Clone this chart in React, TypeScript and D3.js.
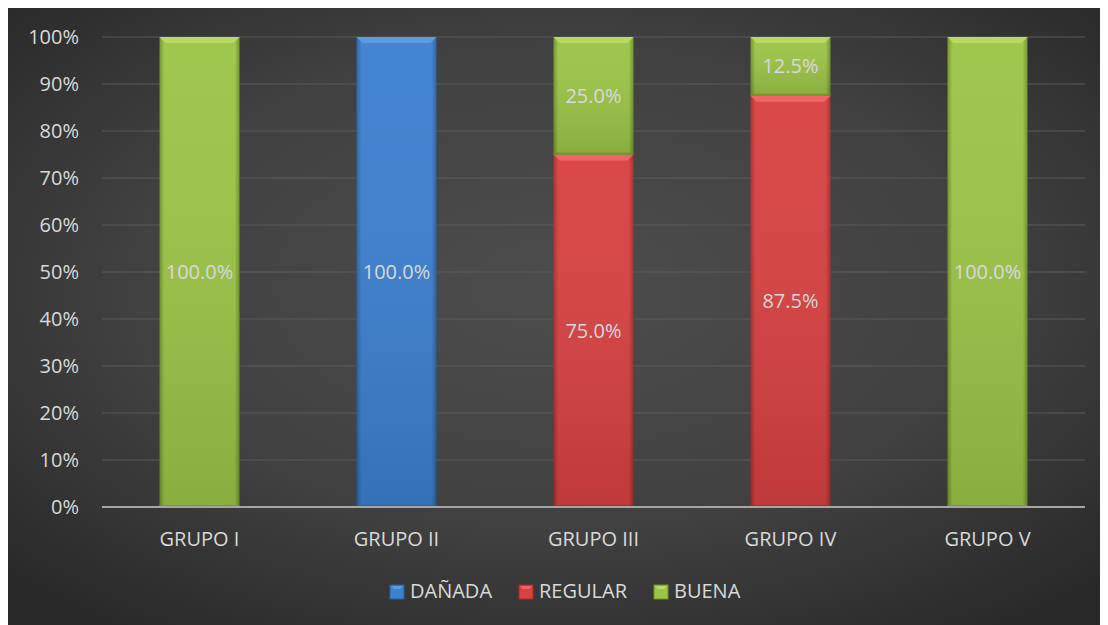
import * as d3 from "d3";

const categories = ["GRUPO I", "GRUPO II", "GRUPO III", "GRUPO IV", "GRUPO V"];
const seriesNames = ["DAÑADA", "REGULAR", "BUENA"];
const danada = [0, 100, 0, 0, 0];
const regular = [0, 0, 75, 87.5, 0];
const buena = [100, 0, 25, 12.5, 100];
const yTicks = [0, 10, 20, 30, 40, 50, 60, 70, 80, 90, 100];

const palette: Record<string, { base: string; light: string; dark: string }> = {
  "DAÑADA": { base: "#3c80d0", light: "#5a9be4", dark: "#2a5e9e" },
  REGULAR: { base: "#d84141", light: "#ef6464", dark: "#a52c2c" },
  BUENA: { base: "#9cc447", light: "#b9da62", dark: "#6f9329" },
};

const FONT = "'Open Sans', sans-serif";
const TXT = "#d9d9d9";

// page coordinates; the svg sits at the 8px body margin
const left = 102;
const right = 1085;
const top = 37;
const bottom = 507;

export default function App() {
  const x = d3.scaleBand<string>().domain(categories).range([left, right]).paddingInner(0.594).paddingOuter(0.292);
  const y = d3.scaleLinear().domain([0, 100]).range([bottom, top]);

  const rows = categories.map((c, i) => ({ cat: c, "DAÑADA": danada[i], REGULAR: regular[i], BUENA: buena[i] }));
  const stacked = d3.stack<any>().keys(seriesNames)(rows);

  const legendX = [390, 519, 654];
  const bw = x.bandwidth();

  return (
    <svg width={1100} height={617} style={{ display: "block" }}>
      <defs>
        <radialGradient id="bg" cx="50%" cy="45%" r="70%">
          <stop offset="0%" stopColor="#4d4d4d" />
          <stop offset="55%" stopColor="#414141" />
          <stop offset="100%" stopColor="#282828" />
        </radialGradient>
        {seriesNames.map((s) => (
          <linearGradient key={s} id={`g-${s === "DAÑADA" ? "d" : s}`} x1="0" x2="1" y1="0" y2="0">
            <stop offset="0%" stopColor={palette[s].dark} />
            <stop offset="6%" stopColor={palette[s].base} />
            <stop offset="94%" stopColor={palette[s].base} />
            <stop offset="100%" stopColor={palette[s].dark} />
          </linearGradient>
        ))}
        <linearGradient id="shade" x1="0" x2="0" y1="0" y2="1">
          <stop offset="0%" stopColor="#fff" stopOpacity={0.04} />
          <stop offset="100%" stopColor="#000" stopOpacity={0.12} />
        </linearGradient>
      </defs>
      <g transform="translate(-8,-8)">
        <rect x={8} y={8} width={1100} height={617} fill="url(#bg)" />

        {yTicks.map((t) => (
          <g key={t}>
            {t > 0 && <line x1={left} x2={right} y1={y(t)} y2={y(t)} stroke="#5a5a5a" strokeWidth={1} />}
            <text x={79} y={y(t) + 7} textAnchor="end" fontFamily={FONT} fontSize={20} fill={TXT}>
              {t}%
            </text>
          </g>
        ))}

        {stacked.map((layer) => {
          const s = layer.key;
          const gid = `g-${s === "DAÑADA" ? "d" : s}`;
          return layer.map((d, i) => {
            const v = d[1] - d[0];
            if (v <= 0) return null;
            const x0 = x(categories[i]) as number;
            const y0 = y(d[1]);
            const h = y(d[0]) - y0;
            const b = 6;
            return (
              <g key={`${s}-${i}`}>
                <rect x={x0} y={y0} width={bw} height={h} fill={`url(#${gid})`} />
                <rect x={x0} y={y0} width={bw} height={h} fill="url(#shade)" />
                <polygon
                  points={`${x0},${y0} ${x0 + bw},${y0} ${x0 + bw - b},${y0 + b} ${x0 + b},${y0 + b}`}
                  fill={palette[s].light}
                />
                <line x1={x0} x2={x0 + bw} y1={y0 + h - 1} y2={y0 + h - 1} stroke={palette[s].dark} strokeWidth={2} opacity={0.8} />
                <text
                  x={x0 + bw / 2}
                  y={y0 + h / 2 + 7}
                  textAnchor="middle"
                  fontFamily={FONT}
                  fontSize={20}
                  fill={TXT}
                >
                  {v.toFixed(1)}%
                </text>
              </g>
            );
          });
        })}

        <line x1={left} x2={right} y1={bottom} y2={bottom} stroke="#a6a6a6" strokeWidth={2} />

        {categories.map((c) => (
          <text
            key={c}
            x={(x(c) as number) + bw / 2}
            y={546}
            textAnchor="middle"
            fontFamily={FONT}
            fontSize={20}
            fill={TXT}
          >
            {c}
          </text>
        ))}

        {seriesNames.map((s, i) => (
          <g key={s} transform={`translate(${legendX[i]},585)`}>
            <rect width={14} height={14} fill={palette[s].base} stroke={palette[s].dark} strokeWidth={1} />
            <polygon points="1,1 13,1 10,4 4,4" fill={palette[s].light} />
            <text x={20} y={13} fontFamily={FONT} fontSize={20} fill={TXT}>
              {s}
            </text>
          </g>
        ))}
      </g>
    </svg>
  );
}
